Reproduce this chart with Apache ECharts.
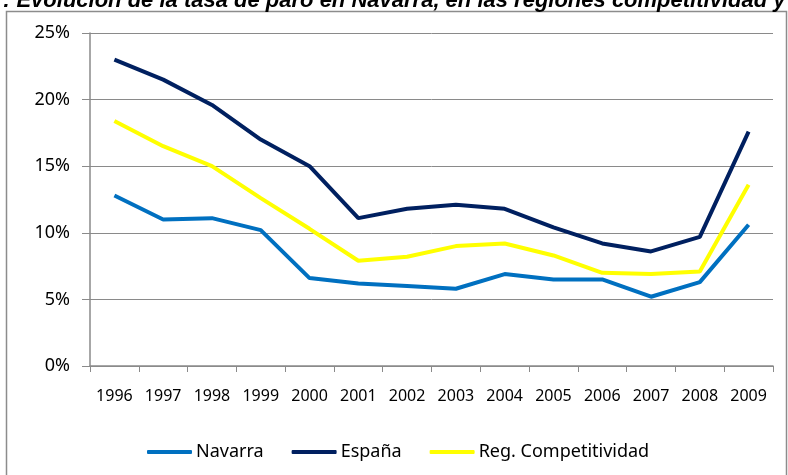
<!DOCTYPE html>
<html>
<head>
<meta charset="utf-8">
<style>
  html, body { margin: 0; padding: 0; background: #fff; }
  #chart { width: 788px; height: 475px; }
</style>
<script src="https://cdn.jsdelivr.net/npm/echarts@6/dist/echarts.min.js"></script>
</head>
<body>
<div id="chart"></div>
<script>
// tasa de paro (%) por año
const years = ["1996", "1997", "1998", "1999", "2000", "2001", "2002", "2003", "2004", "2005", "2006", "2007", "2008", "2009"];
const navarra = [12.8, 11.0, 11.1, 10.2, 6.6, 6.2, 6.0, 5.8, 6.9, 6.5, 6.5, 5.2, 6.3, 10.6];
const espana = [23.0, 21.5, 19.6, 17.0, 15.0, 11.1, 11.8, 12.1, 11.8, 10.4, 9.2, 8.6, 9.7, 17.6];
const regComp = [18.4, 16.5, 15.0, 12.6, 10.3, 7.9, 8.2, 9.0, 9.2, 8.3, 7.0, 6.9, 7.1, 13.6];
const yTicks = [0, 5, 10, 15, 20, 25];

const titleText = ": Evolución de la tasa de paro en Navarra, en las regiones competitividad y";

const chart = echarts.init(document.getElementById("chart"));

const font = "Noto Sans";
const gridColor = "#8a8a8a";

const option = {
  animation: false,
  textStyle: { fontFamily: font },
  graphic: [
    {
      type: "rect",
      shape: { x: 6.5, y: 11.5, width: 780, height: 480 },
      style: { fill: "none", stroke: "#8c8c8c", lineWidth: 1.5 },
      z: 0,
    },
    {
      type: "text",
      x: 3,
      y: 12,
      style: {
        text: titleText,
        font: "italic bold 22px 'Liberation Sans'",
        fill: "#000",
        verticalAlign: "bottom",
      },
    },
  ],
  grid: { left: 90, right: 15, top: 33, bottom: 109 },
  legend: {
    left: 142,
    top: 438,
    icon: "roundRect",
    itemWidth: 45,
    itemHeight: 4,
    itemGap: 28,
    textStyle: { fontFamily: font, fontSize: 18, color: "#000", padding: [0, 0, 0, -1] },
    data: ["Navarra", "España", "Reg. Competitividad"],
  },
  xAxis: {
    type: "category",
    data: years,
    boundaryGap: true,
    axisLine: { lineStyle: { color: gridColor, width: 1.5 } },
    axisTick: { show: true, length: 6, lineStyle: { color: gridColor } },
    axisLabel: { color: "#000", fontSize: 16, margin: 22, interval: 0 },
  },
  yAxis: {
    type: "value",
    min: 0,
    max: 25,
    interval: 5,
    axisLine: { show: true, lineStyle: { color: gridColor, width: 1.5 } },
    axisTick: { show: true, length: 8, lineStyle: { color: gridColor } },
    axisLabel: {
      color: "#000",
      fontSize: 18,
      margin: 20,
      formatter: (v) => (yTicks.includes(v) ? v + "%" : ""),
    },
    splitLine: { lineStyle: { color: gridColor, width: 1 } },
  },
  series: [
    {
      name: "Navarra",
      type: "line",
      data: navarra,
      showSymbol: false,
      color: "#0070C0",
      lineStyle: { width: 4 },
    },
    {
      name: "España",
      type: "line",
      data: espana,
      showSymbol: false,
      color: "#002060",
      lineStyle: { width: 4 },
    },
    {
      name: "Reg. Competitividad",
      type: "line",
      data: regComp,
      showSymbol: false,
      color: "#FFFF00",
      lineStyle: { width: 4 },
    },
  ],
};

chart.setOption(option);
</script>
</body>
</html>
